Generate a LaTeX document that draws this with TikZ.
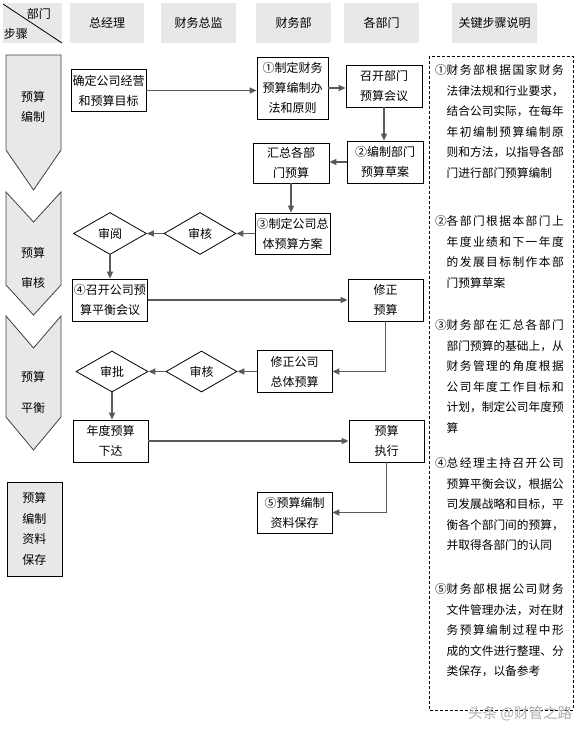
\documentclass[tikz,border=0pt]{standalone}
\usepackage{fontspec}
\setmainfont{Noto Sans CJK SC}
\XeTeXlinebreaklocale "zh"
\XeTeXlinebreakskip=0pt plus 4pt
\usetikzlibrary{
  	positioning,
  	arrows.meta,
  	shapes.geometric,
  	calc
  }
\definecolor{cellgray}{HTML}{E8E8E8}
\definecolor{arrowgray}{HTML}{5A5A5A}
\definecolor{edgegray}{HTML}{404040}
\newcommand\loosenote{\tolerance=9999\hbadness=10000}

\begin{document}
\begin{tikzpicture}[x=1pt, y=-1pt,
	head/.style={fill=cellgray, minimum width=75pt, minimum height=40pt, inner sep=0pt, font=\fontsize{12}{14}\selectfont},
	box/.style={draw, line width=.8pt, minimum width=75pt, minimum height=42pt, inner sep=0pt, align=center, font=\fontsize{12}{20}\selectfont},
	dia/.style={draw, diamond, line width=.8pt, minimum width=72pt, minimum height=42pt, inner sep=0pt, font=\fontsize{12}{14}\selectfont},
	stage/.style={fill=cellgray, draw=edgegray, line width=.8pt},
	flow/.style={draw=arrowgray, line width=1.6pt, -{Triangle[length=7pt, width=6pt]}},
	num/.style={anchor=north west, inner sep=0pt, font=\fontsize{11.7}{20.6}\selectfont},
	note/.style={anchor=north west, text width=117pt, inner sep=0pt, align=justify, font=\fontsize{11.7}{20.6}\selectfont}]
	\useasboundingbox (0,0) rectangle (588,732);
%
	\node[head, minimum width=59pt] (corner) at (32.5,23) {};
	\draw[line width=.8pt] (3,4) -- (62,43);
	\node[font=\fontsize{12}{14}\selectfont] (cdept) at (39,14) {部门};
	\node[font=\fontsize{12}{14}\selectfont] (cstep) at (16,34) {步骤};
	\node[head, minimum width=74pt] (gm) at (107,23) {总经理};
	\node[head] (cfo) at (198.5,23) {财务总监};
	\node[head] (fin) at (293.5,23) {财务部};
	\node[head] (dept) at (381.5,23) {各部门};
	\node[head, minimum width=85pt] (key) at (494.5,23) {关键步骤说明};
%
	\draw[stage] (6,55) -- (61,55) -- (61,150) -- (33.5,190) -- (6,150) -- cycle;
	\node[align=center, font=\fontsize{12}{20}\selectfont] (s1) at (33,107) {预算\\编制};
	\draw[stage] (6,192) -- (33.5,222) -- (61,192) -- (61,285) -- (33.5,315) -- (6,285) -- cycle;
	\node[align=center, font=\fontsize{12}{30}\selectfont] (s2) at (33,268) {预算\\审核};
	\draw[stage] (6,316) -- (33.5,348) -- (61,316) -- (61,417) -- (33.5,450) -- (6,417) -- cycle;
	\node[align=center, font=\fontsize{12}{31}\selectfont] (s3) at (33,392.5) {预算\\平衡};
	\node[box, fill=cellgray, minimum width=55pt, minimum height=94pt, font=\fontsize{12}{20.5}\selectfont] (s4) at (34.5,529) {预算\\编制\\资料\\保存};
%
	\node[box] (goal) at (108.5,90.5) {确定公司经营\\和预算目标};
	\node[box, minimum width=71pt, minimum height=62pt] (rule) at (292.5,88) {①制定财务\\预算编制办\\法和原则};
	\node[box, minimum width=76pt] (meet) at (384,86) {召开部门\\预算会议};
	\node[box, minimum width=76pt] (draft) at (385,162) {②编制部门\\预算草案};
	\node[box, minimum width=76pt, minimum height=40pt] (sum) at (291,163) {汇总各部\\门预算};
	\node[box, minimum height=41pt] (plan) at (292.5,233.5) {③制定公司总\\体预算方案};
	\node[dia] (check1) at (200,233.5) {审核};
	\node[dia, minimum width=73pt] (review) at (110,233.5) {审阅};
	\node[box] (balance) at (110,300) {④召开公司预\\算平衡会议};
	\node[box] (fix) at (385.5,300) {修正\\预算};
	\node[box] (fixplan) at (294.5,371.5) {修正公司\\总体预算};
	\node[dia, minimum width=71pt, minimum height=41pt] (check2) at (201.5,371.5) {审核};
	\node[dia, minimum height=41pt] (approve) at (112,371.5) {审批};
	\node[box] (issue) at (110.5,441) {年度预算\\下达};
	\node[box] (exec) at (386.5,441) {预算\\执行};
	\node[box, minimum height=41pt] (store) at (294.5,512.5) {⑤预算编制\\资料保存};
%
	\draw[flow] (goal.east) -- (goal.east -| rule.west);
	\draw[flow] (rule.east) -- (rule.east -| meet.west);
	\draw[flow] (meet.south) -- (meet.south |- draft.north);
	\draw[flow] (draft.west) -- (draft.west -| sum.east);
	\draw[flow] (sum.south) -- (sum.south |- plan.north);
	\draw[flow] (plan.west) -- (check1.east);
	\draw[flow] (check1.west) -- (review.east);
	\draw[flow] (review.south) -- (balance.north);
	\draw[flow] (balance.east) -- (fix.west);
	\draw[flow] (fix.south) |- (fixplan.east);
	\draw[flow] (fixplan.west) -- (check2.east);
	\draw[flow] (check2.west) -- (approve.east);
	\draw[flow] (approve.south) -- (approve.south |- issue.north);
	\draw[flow] (issue.east) -- (exec.west);
	\draw[flow] (exec.south) |- (store.east);
%
	\draw[dashed, line width=.7pt, dash pattern=on 3pt off 2pt] (429,56) rectangle (573,710);
	\node[num] (n1) at (435,64.4) {①};
	\node[note] (t1) at (446.5,64.4) {\loosenote 财务部根据国家财务\linebreak 法律法规和行业要求，\linebreak 结合公司实际，在每年\linebreak 年初编制预算编制原\linebreak 则和方法，以指导各部\linebreak 门进行部门预算编制};
	\node[num] (n2) at (435,215.4) {②};
	\node[note] (t2) at (446.5,215.4) {\loosenote 各部门根据本部门上\linebreak 年度业绩和下一年度\linebreak 的发展目标制作本部\linebreak 门预算草案};
	\node[num] (n3) at (435,319.4) {③};
	\node[note] (t3) at (446.5,319.4) {\loosenote 财务部在汇总各部门\linebreak 部门预算的基础上，从\linebreak 财务管理的角度根据\linebreak 公司年度工作目标和\linebreak 计划，制定公司年度预\linebreak 算};
	\node[num] (n4) at (435,457.4) {④};
	\node[note] (t4) at (446.5,457.4) {\loosenote 总经理主持召开公司\linebreak 预算平衡会议，根据公\linebreak 司发展战略和目标，平\linebreak 衡各个部门间的预算，\linebreak 并取得各部门的认同};
	\node[num] (n5) at (435,583.4) {⑤};
	\node[note] (t5) at (446.5,583.4) {\loosenote 财务部根据公司财务\linebreak 文件管理办法，对在财\linebreak 务预算编制过程中形\linebreak 成的文件进行整理、分\linebreak 类保存，以备参考};
%
	\node[anchor=base west, inner sep=0pt, text=gray!65, font=\fontsize{14.5}{15}\selectfont] (mark) at (468,718) {头条 @财管之路};
\end{tikzpicture}
\end{document}
